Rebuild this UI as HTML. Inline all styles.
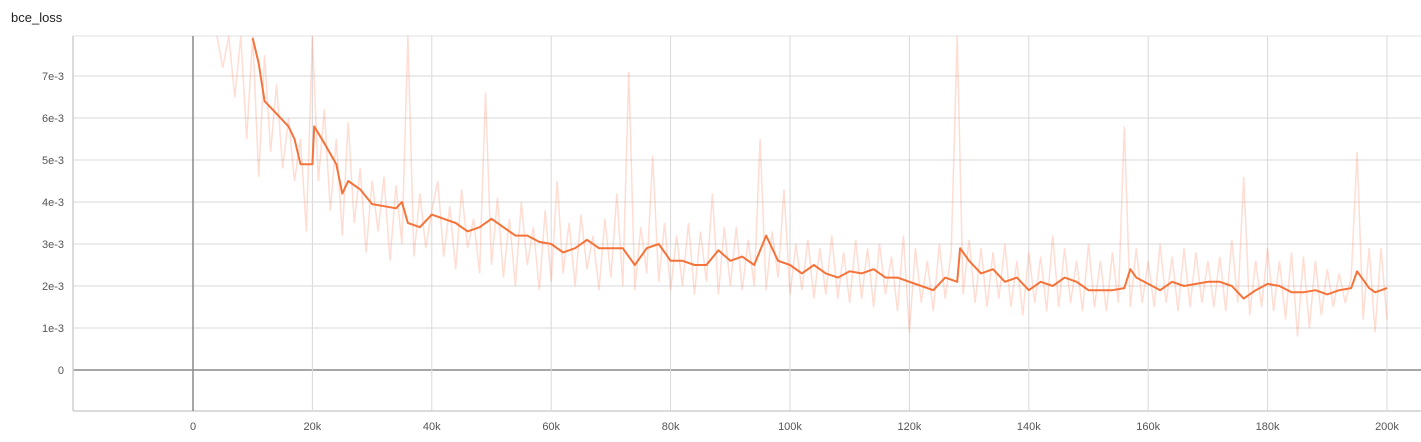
<!DOCTYPE html>
<html><head><meta charset="utf-8"><style>
body{margin:0;background:#fff;font-family:"Liberation Sans",sans-serif}
svg text{font-family:"Liberation Sans",sans-serif}
</style></head><body>
<svg id="c" width="1421" height="437" xmlns="http://www.w3.org/2000/svg">
<text x="11" y="22" font-size="13" fill="#212121">bce_loss</text>
<g id="grid"></g><g id="series"></g><g id="axes"></g>
</svg>
<script>
const yTicks=[0,1,2,3,4,5,6,7];
const yTickLabels=["0","1e-3","2e-3","3e-3","4e-3","5e-3","6e-3","7e-3"];
const xTicks=[0,20,40,60,80,100,120,140,160,180,200];
const xTickLabels=["0","20k","40k","60k","80k","100k","120k","140k","160k","180k","200k"];
const smoothSteps=[10,11,12,14,16,17,18,20,20.3,22,24,25,26,28,30,32,34,35,36,38,40,42,44,46,48,50,52,54,56,58,60,62,64,66,68,70,72,74,76,78,80,82,84,86,88,90,92,94,96,98,100,102,104,106,108,110,112,114,116,118,120,122,124,126,128,128.5,130,132,134,136,138,140,142,144,146,148,150,152,154,156,157,158,160,162,164,166,168,170,172,174,176,178,180,182,184,186,188,190,192,194,195,197,198,200];
const smoothValues=[7.9,7.3,6.4,6.1,5.8,5.5,4.9,4.9,5.8,5.4,4.9,4.2,4.5,4.3,3.95,3.9,3.85,4.0,3.5,3.4,3.7,3.6,3.5,3.3,3.4,3.6,3.4,3.2,3.2,3.05,3.0,2.8,2.9,3.1,2.9,2.9,2.9,2.5,2.9,3.0,2.6,2.6,2.5,2.5,2.85,2.6,2.7,2.5,3.2,2.6,2.5,2.3,2.5,2.3,2.2,2.35,2.3,2.4,2.2,2.2,2.1,2.0,1.9,2.2,2.1,2.9,2.6,2.3,2.4,2.1,2.2,1.9,2.1,2.0,2.2,2.1,1.9,1.9,1.9,1.95,2.4,2.2,2.05,1.9,2.1,2.0,2.05,2.1,2.1,2.0,1.7,1.9,2.05,2.0,1.85,1.85,1.9,1.8,1.9,1.95,2.35,1.95,1.85,1.95];
const rawStart=4;
const rawValues=[9,7.2,9,6.5,9,5.5,9,
4.6,7.5,5.2,6.8,4.8,6,4.5,5.5,3.3,9,
4.5,6.2,3.8,5.5,3.2,5.9,3.5,4.8,2.8,4.5,
3.3,4.6,2.6,4.4,3.0,8.5,2.7,4.2,2.9,3.8,
4.5,2.7,3.9,2.4,4.3,2.9,3.6,2.3,6.6,2.5,
4.1,2.2,3.6,2.0,4.0,2.5,3.4,1.9,3.8,2.1,
4.5,2.3,3.5,2.0,3.7,2.4,3.2,1.9,3.6,2.2,
4.2,2.0,7.1,1.9,3.4,2.3,5.1,2.1,3.5,1.9,
3.2,2.0,3.5,1.8,3.3,2.1,4.2,1.8,3.4,2.0,
3.4,1.9,3.1,2.0,5.5,1.9,3.3,2.2,4.3,1.8,
3.0,1.9,3.1,1.7,2.9,1.8,3.2,1.7,2.8,1.6,
3.1,1.7,2.9,1.5,3.0,1.8,2.7,1.4,3.2,0.9,
2.9,1.6,2.6,1.4,3.0,1.7,2.8,8,1.8,3.1,
1.6,2.9,1.5,2.8,1.7,3.0,1.5,2.6,1.3,2.8,
1.6,2.7,1.4,3.2,1.5,2.9,1.6,2.6,1.4,3.0,
1.5,2.6,1.4,2.8,1.6,5.8,1.5,2.9,1.6,2.6,
1.5,3.0,1.6,2.7,1.4,2.9,1.5,2.8,1.6,2.6,
1.5,2.7,1.4,3.1,1.6,4.6,1.3,2.6,1.5,2.9,
1.4,2.6,1.2,2.8,0.8,2.7,1.0,2.6,1.3,2.4,
1.5,2.3,1.6,2.2,5.2,1.2,2.9,0.9,2.9,1.2];
const NS="http://www.w3.org/2000/svg";
const L=73,R=1421,T=36,B=411;
const X=k=>193+k*5.97;
const Y=v=>370-v*42;
const cy=v=>Math.max(T,Math.min(B,Y(v)));
function mk(tag,attrs,parent){const e=document.createElementNS(NS,tag);for(const k in attrs)e.setAttribute(k,attrs[k]);parent.appendChild(e);return e;}
const grid=document.getElementById('grid'),axes=document.getElementById('axes'),series=document.getElementById('series');
mk('rect',{x:L,y:T,width:R-L,height:B-T,fill:'#fff'},grid);
yTicks.forEach((t,i)=>{
 const l=mk('line',{x1:L,x2:R,y1:Y(t),y2:Y(t),stroke:t===0?'#8a8a8a':'#d9d9d9','stroke-width':t===0?1.5:1},grid);
 
 
 const tx=mk('text',{x:L-9,y:Y(t)+4,'text-anchor':'end','font-size':11,fill:'#555'},axes);
 tx.textContent=yTickLabels[i];
 
 
});
mk('line',{x1:L,x2:R,y1:T,y2:T,stroke:'#e0e0e0'},grid);
mk('line',{x1:L,x2:R,y1:B,y2:B,stroke:'#cfcfcf','stroke-width':1.5},grid);
mk('line',{x1:L,x2:L,y1:T,y2:B,stroke:'#cfcfcf','stroke-width':1.5},grid);
xTicks.forEach((t,i)=>{
 const l=mk('line',{x1:X(t),x2:X(t),y1:T,y2:B,stroke:t===0?'#8a8a8a':'#d9d9d9','stroke-width':t===0?1.5:1},grid);
 
 
 const tx=mk('text',{x:X(t),y:430,'text-anchor':'middle','font-size':11,fill:'#555'},axes);
 tx.textContent=xTickLabels[i];
 
 
});
let d='';rawValues.forEach((v,i)=>{d+=(i?'L':'M')+X(rawStart+i).toFixed(1)+','+cy(v).toFixed(1);});
const raw=mk('path',{d:d,fill:'none',stroke:'rgba(255,120,80,0.25)','stroke-width':1.5},series);


let d2='';smoothValues.forEach((v,i)=>{d2+=(i?'L':'M')+X(smoothSteps[i]).toFixed(1)+','+cy(v).toFixed(1);});
const sm=mk('path',{d:d2,fill:'none',stroke:'#f4733a','stroke-width':2,'stroke-linejoin':'round'},series);


</script>
</body></html>
